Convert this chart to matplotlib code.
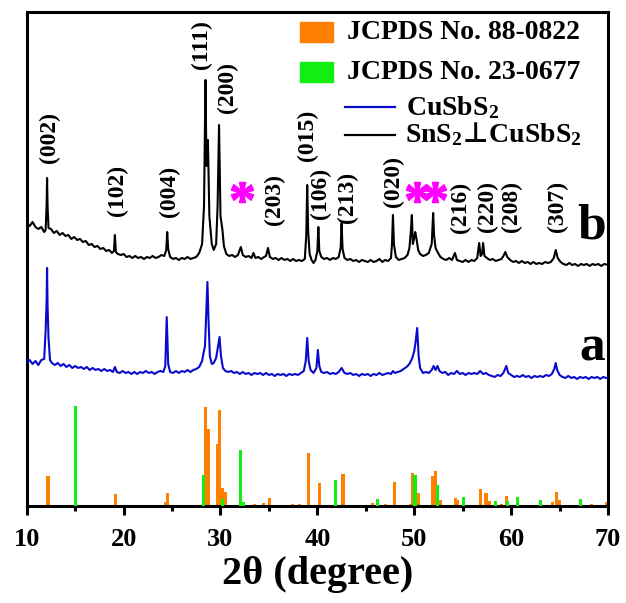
import matplotlib

matplotlib.use("Agg")
import matplotlib.pyplot as plt
from matplotlib.font_manager import FontProperties
from matplotlib.lines import Line2D
from matplotlib.patches import Rectangle
from matplotlib.path import Path
from matplotlib.textpath import TextPath
from matplotlib.ticker import MultipleLocator

# a: CuSbS2
SCAN_A = [
    (10.0, 143), (10.3, 146), (10.6, 142), (10.9, 145), (11.2, 141), (11.5, 146),
    (11.8, 147), (11.95, 175), (12.05, 205), (12.1, 238), (12.15, 200), (12.25, 168),
    (12.4, 146), (12.6, 143), (12.9, 141), (13.2, 143), (13.5, 140), (13.8, 142),
    (14.1, 139), (14.4, 141), (14.7, 138), (15.0, 140), (15.3, 138), (15.6, 139),
    (15.9, 137), (16.2, 139), (16.5, 136), (16.8, 138), (17.1, 136), (17.4, 137),
    (17.7, 135), (18.0, 137), (18.3, 135), (18.6, 136), (18.9, 134), (19.1, 139),
    (19.3, 134), (19.6, 133), (19.9, 135), (20.2, 133), (20.5, 134), (20.8, 132),
    (21.1, 134), (21.4, 132), (21.7, 134), (22.0, 133), (22.3, 135), (22.6, 133),
    (22.9, 134), (23.2, 132), (23.5, 134), (23.8, 135), (24.1, 134), (24.3, 140),
    (24.45, 189), (24.6, 142), (24.8, 134), (25.1, 133), (25.4, 135), (25.7, 133),
    (26.0, 135), (26.3, 134), (26.6, 136), (26.9, 134), (27.2, 136), (27.5, 137),
    (27.8, 139), (28.1, 145), (28.25, 153), (28.4, 160), (28.55, 200), (28.65, 224),
    (28.75, 190), (28.9, 150), (29.1, 142), (29.3, 143), (29.55, 148), (29.75, 160),
    (29.9, 169), (30.05, 150), (30.25, 138), (30.5, 135), (30.8, 134), (31.1, 135),
    (31.4, 133), (31.7, 134), (32.0, 132), (32.3, 134), (32.6, 132), (32.9, 133),
    (33.2, 131), (33.5, 133), (33.8, 132), (34.1, 133), (34.4, 131), (34.7, 133),
    (35.0, 131), (35.3, 132), (35.6, 130), (35.9, 132), (36.2, 131), (36.5, 132),
    (36.8, 130), (37.1, 132), (37.4, 131), (37.7, 132), (38.0, 131), (38.3, 133),
    (38.6, 135), (38.8, 145), (38.95, 168), (39.1, 145), (39.3, 136), (39.6, 133),
    (39.9, 138), (40.05, 156), (40.2, 140), (40.4, 134), (40.7, 133), (41.0, 134),
    (41.3, 132), (41.6, 133), (41.9, 132), (42.2, 134), (42.5, 138), (42.8, 133),
    (43.1, 132), (43.4, 133), (43.7, 131), (44.0, 132), (44.3, 130), (44.6, 132),
    (44.9, 131), (45.2, 132), (45.5, 130), (45.8, 132), (46.1, 131), (46.4, 133),
    (46.7, 131), (47.0, 132), (47.3, 133), (47.6, 132), (47.8, 135), (48.0, 133),
    (48.3, 134), (48.6, 135), (48.9, 137), (49.2, 139), (49.5, 142), (49.8, 148),
    (50.0, 155), (50.15, 165), (50.3, 178), (50.45, 150), (50.6, 138), (50.9, 133),
    (51.2, 134), (51.5, 133), (51.8, 136), (52.0, 140), (52.2, 136), (52.4, 140),
    (52.6, 135), (52.9, 133), (53.2, 134), (53.5, 131), (53.8, 133), (54.1, 132),
    (54.4, 135), (54.7, 132), (55.0, 133), (55.3, 131), (55.6, 133), (55.9, 132),
    (56.2, 133), (56.5, 132), (56.8, 135), (57.1, 132), (57.4, 133), (57.7, 131),
    (58.0, 130), (58.3, 129), (58.6, 131), (58.9, 130), (59.2, 133), (59.5, 140),
    (59.7, 133), (60.0, 131), (60.3, 129), (60.6, 130), (60.9, 129), (61.2, 131),
    (61.5, 129), (61.8, 130), (62.1, 128), (62.4, 130), (62.7, 129), (63.0, 130),
    (63.3, 129), (63.6, 131), (63.9, 130), (64.2, 132), (64.45, 137), (64.6, 143),
    (64.75, 136), (65.0, 131), (65.3, 129), (65.6, 128), (65.9, 130), (66.2, 128),
    (66.5, 129), (66.8, 127), (67.1, 129), (67.4, 128), (67.7, 129), (68.0, 127),
    (68.3, 129), (68.6, 128), (68.9, 129), (69.2, 127), (69.5, 129), (69.8, 128),
    (70.0, 128),
]

# b: SnS2-CuSbS2
SCAN_B = [
    (10.0, 283), (10.3, 280), (10.6, 284), (10.9, 279), (11.2, 277), (11.5, 279),
    (11.8, 274), (11.95, 276), (12.05, 300), (12.1, 328), (12.15, 300), (12.25, 278),
    (12.5, 277), (12.8, 273), (13.1, 275), (13.4, 271), (13.7, 273), (14.0, 270),
    (14.3, 271), (14.6, 267), (14.9, 269), (15.2, 266), (15.5, 267), (15.8, 264),
    (16.1, 265), (16.4, 261), (16.7, 262), (17.0, 259), (17.3, 260), (17.6, 257),
    (17.9, 258), (18.2, 255), (18.5, 256), (18.8, 253), (19.0, 255), (19.1, 271),
    (19.2, 254), (19.4, 252), (19.7, 251), (20.0, 252), (20.3, 249), (20.6, 250),
    (20.9, 248), (21.2, 250), (21.5, 248), (21.8, 249), (22.1, 247), (22.4, 249),
    (22.7, 248), (23.0, 250), (23.3, 248), (23.6, 249), (23.9, 251), (24.2, 250),
    (24.4, 256), (24.5, 274), (24.6, 257), (24.8, 249), (25.1, 247), (25.4, 248),
    (25.7, 246), (26.0, 248), (26.3, 247), (26.6, 249), (26.9, 247), (27.2, 248),
    (27.5, 249), (27.8, 253), (28.1, 262), (28.3, 300), (28.45, 426), (28.55, 340),
    (28.7, 366), (28.85, 290), (29.1, 262), (29.3, 256), (29.55, 262), (29.7, 300),
    (29.85, 381), (30.0, 290), (30.2, 276), (30.35, 260), (30.6, 252), (30.9, 250),
    (31.2, 251), (31.5, 249), (31.8, 251), (32.1, 259), (32.3, 251), (32.6, 249),
    (32.9, 250), (33.2, 248), (33.4, 253), (33.6, 248), (33.9, 249), (34.2, 247),
    (34.5, 249), (34.7, 250), (34.9, 258), (35.1, 249), (35.4, 247), (35.7, 248),
    (36.0, 246), (36.3, 248), (36.6, 246), (36.9, 247), (37.2, 245), (37.5, 247),
    (37.8, 245), (38.1, 246), (38.4, 245), (38.7, 247), (38.85, 270), (38.95, 321),
    (39.05, 275), (39.2, 252), (39.4, 246), (39.6, 243), (39.8, 246), (40.0, 255),
    (40.1, 279), (40.2, 255), (40.4, 249), (40.7, 247), (41.0, 248), (41.3, 246),
    (41.6, 248), (41.9, 247), (42.2, 249), (42.4, 258), (42.5, 283), (42.6, 257),
    (42.8, 248), (43.1, 246), (43.4, 247), (43.7, 245), (44.0, 246), (44.3, 244),
    (44.6, 246), (44.9, 245), (45.2, 244), (45.5, 246), (45.8, 244), (46.1, 245),
    (46.4, 247), (46.7, 244), (47.0, 246), (47.3, 245), (47.6, 248), (47.7, 262),
    (47.8, 291), (47.9, 262), (48.1, 249), (48.4, 246), (48.7, 247), (49.0, 248),
    (49.3, 251), (49.5, 258), (49.65, 275), (49.75, 291), (49.85, 262), (50.0, 268),
    (50.1, 274), (50.25, 266), (50.4, 256), (50.6, 252), (50.9, 250), (51.2, 251),
    (51.5, 253), (51.8, 262), (51.95, 293), (52.05, 270), (52.2, 258), (52.4, 254),
    (52.7, 249), (53.0, 247), (53.3, 246), (53.6, 248), (53.9, 246), (54.2, 253),
    (54.4, 246), (54.7, 245), (55.0, 244), (55.3, 246), (55.6, 244), (55.9, 246),
    (56.2, 245), (56.5, 248), (56.7, 263), (56.85, 250), (57.0, 252), (57.1, 263),
    (57.25, 250), (57.5, 248), (57.8, 246), (58.1, 247), (58.4, 245), (58.7, 246),
    (59.0, 247), (59.2, 250), (59.4, 254), (59.6, 249), (59.9, 246), (60.2, 244),
    (60.5, 245), (60.8, 243), (61.1, 245), (61.4, 243), (61.7, 244), (62.0, 242),
    (62.3, 244), (62.6, 242), (62.9, 243), (63.2, 242), (63.5, 244), (63.8, 243),
    (64.1, 244), (64.4, 248), (64.6, 256), (64.8, 248), (65.1, 244), (65.4, 242),
    (65.7, 241), (66.0, 243), (66.3, 241), (66.6, 242), (66.9, 240), (67.2, 242),
    (67.5, 241), (67.8, 242), (68.1, 240), (68.4, 242), (68.7, 241), (69.0, 242),
    (69.3, 240), (69.6, 242), (70.0, 241),
]

# Reference stick patterns
cusbs2_ref_pos = [12.2, 19.2, 24.3, 24.5, 28.46, 28.77, 29.66, 29.9, 30.2, 30.5,
                  33.5, 34.4, 35.1, 37.4, 38.2, 38.5, 39.06, 40.2, 42.64, 43.4,
                  45.7, 47.0, 48.0, 48.4, 49.6, 49.84, 50.4, 51.87, 52.15, 52.66,
                  54.3, 54.5, 56.8, 57.4, 57.76, 58.97, 59.55, 61.6, 64.27, 64.7,
                  65.0, 68.3, 69.8]
cusbs2_ref_int = [30, 12, 4, 13, 99, 77, 62, 96, 18, 14,
                  2, 3, 8, 2, 2, 1, 53, 23, 32, 1,
                  3, 2, 24, 1, 2, 33, 13, 30, 35, 6,
                  8, 6, 17, 13, 5, 2, 10, 1, 4, 14,
                  6, 2, 4]
sns2_ref_pos = [15.03, 28.2, 30.2, 32.07, 32.4, 41.9, 46.2, 50.08, 52.4, 55.04,
                58.4, 59.6, 60.7, 63.0, 67.2]
sns2_ref_int = [100, 31, 7, 56, 4, 26, 7, 31, 21, 9,
                5, 5, 9, 6, 7]

# Miller indices marked on scan b
hkl_labels = ["(002)", "(102)", "(004)", "(111)", "(200)", "(203)", "(015)",
              "(106)", "(213)", "(020)", "(216)", "(220)", "(208)", "(307)"]
hkl_x = [12.3, 19.32, 24.69, 28.0, 30.68, 35.53, 38.93,
         40.27, 43.06, 47.81, 54.73, 57.51, 59.99, 64.74]
hkl_y = [368, 316, 315, 461, 418, 306, 371,
         313, 309, 324, 299, 299, 299, 300]

# SnS2 peaks flagged with an asterisk
star_x = [32.2, 50.3, 52.1]
star_y = [314, 314, 314]

ORANGE = "#FF8000"
GREEN = "#12EE12"
BLUE = "#0A0ACD"
MAGENTA = "#FF00FF"


def asterisk_marker() -> Path:
    """A bold serif '*' glyph, recentred so it can be used as a marker."""
    glyph = TextPath((0, 0), "*", prop=FontProperties(family="Liberation Serif", weight="bold"))
    verts = glyph.vertices.copy()
    codes = glyph.codes
    # CLOSEPOLY vertices are dummies; pin them to their subpath start so they
    # do not skew the centring or the marker's size normalisation.
    start = verts[0].copy()
    for i, code in enumerate(codes):
        if code == Path.MOVETO:
            start = verts[i].copy()
        elif code == Path.CLOSEPOLY:
            verts[i] = start
    centre = (verts.min(axis=0) + verts.max(axis=0)) / 2
    return Path(verts - centre, codes)


plt.rcParams.update({
    "font.family": ["Liberation Serif", "DejaVu Serif"],
    "font.weight": "bold",
    "mathtext.fontset": "custom",
    "mathtext.rm": "Liberation Serif:bold",
    "mathtext.it": "Liberation Serif:bold",
    "mathtext.bf": "Liberation Serif:bold",
    "mathtext.sf": "DejaVu Sans:bold",
    "mathtext.fallback": "stix",
})

fig = plt.figure(figsize=(6.26, 6.03), dpi=100)
ax = fig.add_axes([0.0427, 0.1609, 0.9286, 0.8192])

ax.bar(cusbs2_ref_pos, cusbs2_ref_int, width=0.32, color=ORANGE, zorder=2)
ax.bar(sns2_ref_pos, sns2_ref_int, width=0.32, color=GREEN, zorder=3)

tth_a, counts_a = zip(*SCAN_A)
tth_b, counts_b = zip(*SCAN_B)
ax.plot(tth_a, counts_a, color=BLUE, lw=1.5, zorder=4)
ax.plot(tth_b, counts_b, color="black", lw=1.5, zorder=4)

for label, x, y in zip(hkl_labels, hkl_x, hkl_y):
    ax.text(x, y, label, rotation=90, ha="center", va="center", fontsize=17, fontweight="bold")

ax.plot(star_x, star_y, ls="none", marker=asterisk_marker(), markersize=16,
        color=MAGENTA, zorder=5)

ax.text(68.3, 279, "b", ha="center", va="center", fontsize=37, fontweight="bold")
ax.text(68.4, 157, "a", ha="center", va="center", fontsize=37, fontweight="bold")

# Hand-placed key, as in the original (patches and lines are not aligned)
ax.add_patch(Rectangle((0.470, 0.940), 0.0568, 0.0405, transform=ax.transAxes, color=ORANGE))
ax.add_patch(Rectangle((0.470, 0.859), 0.0568, 0.0405, transform=ax.transAxes, color=GREEN))
ax.add_line(Line2D([0.5476, 0.6335], [0.808, 0.808], transform=ax.transAxes, color=BLUE, lw=1.6))
ax.add_line(Line2D([0.5476, 0.6335], [0.751, 0.751], transform=ax.transAxes, color="black", lw=1.6))
key_kw = dict(transform=ax.transAxes, ha="left", va="baseline", fontsize=20, fontweight="bold")
ax.text(0.551, 0.945, "JCPDS No. 88-0822", **key_kw)
ax.text(0.551, 0.864, "JCPDS No. 23-0677", **key_kw)
ax.text(0.653, 0.7915, "CuSbS$_2$", **key_kw)
ax.text(0.651, 0.737, r"SnS$_2\!\mathsf{\bot}\!$CuSbS$_2$", **key_kw)

ax.set_xlim(10, 70)
ax.set_ylim(0, 494)
ax.xaxis.set_major_locator(MultipleLocator(10))
ax.xaxis.set_minor_locator(MultipleLocator(5))
ax.set_yticks([])
ax.tick_params(axis="x", which="major", direction="out", length=6.5, width=2.2,
               labelsize=19, pad=9)
ax.tick_params(axis="x", which="minor", direction="out", length=3.6, width=2.2)
for spine in ax.spines.values():
    spine.set_linewidth(2.2)
ax.set_xlabel("2θ (degree)", fontsize=29, fontweight="bold", labelpad=4)

fig.savefig("out.png", dpi=100)
